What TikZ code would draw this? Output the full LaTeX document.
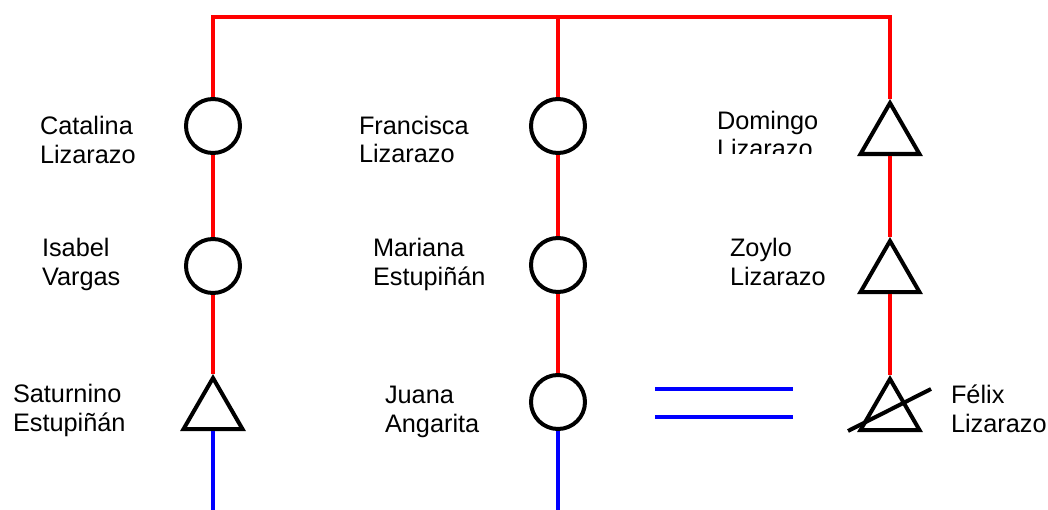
\documentclass[tikz,border=0pt]{standalone}
\usepackage{fontspec}
\setmainfont{Liberation Sans}
\usetikzlibrary{shapes.geometric}

\begin{document}
\begin{tikzpicture}[x=0.025cm, y=-0.025cm, line width=0.1cm]
        \tikzstyle{woman}=[circle,draw=black,fill=white,minimum size=1.35cm,inner sep=0pt]
        \tikzstyle{man}=[regular polygon,regular polygon sides=3,draw=black,fill=white,minimum size=1.7cm,inner sep=0pt]
        \tikzstyle{personname}=[anchor=base west,inner sep=0pt,align=left,font=\fontsize{18}{20.6}\selectfont]
        \tikzstyle{kin}=[draw=red]
        \tikzstyle{wed}=[draw=blue, line width=0.11cm]

        \useasboundingbox (0,0) rectangle (1048,510);

        % top bar
        \coordinate (top1) at (213,17);
        \coordinate (top2) at (558,17);
        \coordinate (top3) at (890,17);
        \coordinate (bot1) at (213,510);
        \coordinate (bot2) at (558,510);
        \coordinate (eq1a) at (655,389);
        \coordinate (eq1b) at (793,389);
        \coordinate (eq2a) at (655,417);
        \coordinate (eq2b) at (793,417);

        % left line
        \node[woman] (catalina) at (213,126) {};
        \node[woman] (isabel) at (213,266) {};
        \node[man] (saturnino) at (213,412) {};
        % middle line
        \node[woman] (francisca) at (558,126) {};
        \node[woman] (mariana) at (558,265) {};
        \node[woman] (juana) at (558,402) {};
        % right line
        \node[man] (domingo) at (890,137) {};
        \node[man] (zoylo) at (890,275) {};
        \node[man] (felix) at (890,413) {};

        \draw[kin] (catalina) -- (top1) -- (top3) -- (domingo);
        \draw[kin] (top2) -- (francisca);
        \draw[kin] (catalina) -- (isabel);
        \draw[kin] (isabel) -- (saturnino);
        \draw[kin] (francisca) -- (mariana);
        \draw[kin] (mariana) -- (juana);
        \draw[kin] (domingo) -- (zoylo);
        \draw[kin] (zoylo) -- (felix);

        \draw[wed] (saturnino) -- (bot1);
        \draw[wed] (juana) -- (bot2);
        \draw[wed] (eq1a) -- (eq1b);
        \draw[wed] (eq2a) -- (eq2b);

        % deceased
        \coordinate (felixa) at ([shift={(-42,18)}]felix.center);
        \coordinate (felixb) at ([shift={(41,-24)}]felix.center);
        \draw (felixa) -- (felixb);

        \node[personname] (catalinaname) at (38,163.5) {Catalina\\Lizarazo};
        \node[personname] (isabelname) at (40,285.5) {Isabel\\Vargas};
        \node[personname] (saturninoname) at (11,431.5) {Saturnino\\Estupiñán};
        \node[personname] (franciscaname) at (357,163) {Francisca\\Lizarazo};
        \node[personname] (mariananame) at (371,285.5) {Mariana\\Estupiñán};
        \node[personname] (juananame) at (383,432.5) {Juana\\Angarita};
        \begin{scope}
            \clip (700,95) rectangle (850,154);
            \node[personname] (domingoname) at (715,158) {Domingo\\Lizarazo};
        \end{scope}
        \node[personname] (zoyloname) at (728,285.5) {Zoylo\\Lizarazo};
        \node[personname] (felixname) at (949,432.5) {Félix\\Lizarazo};
    \end{tikzpicture}
\end{document}
